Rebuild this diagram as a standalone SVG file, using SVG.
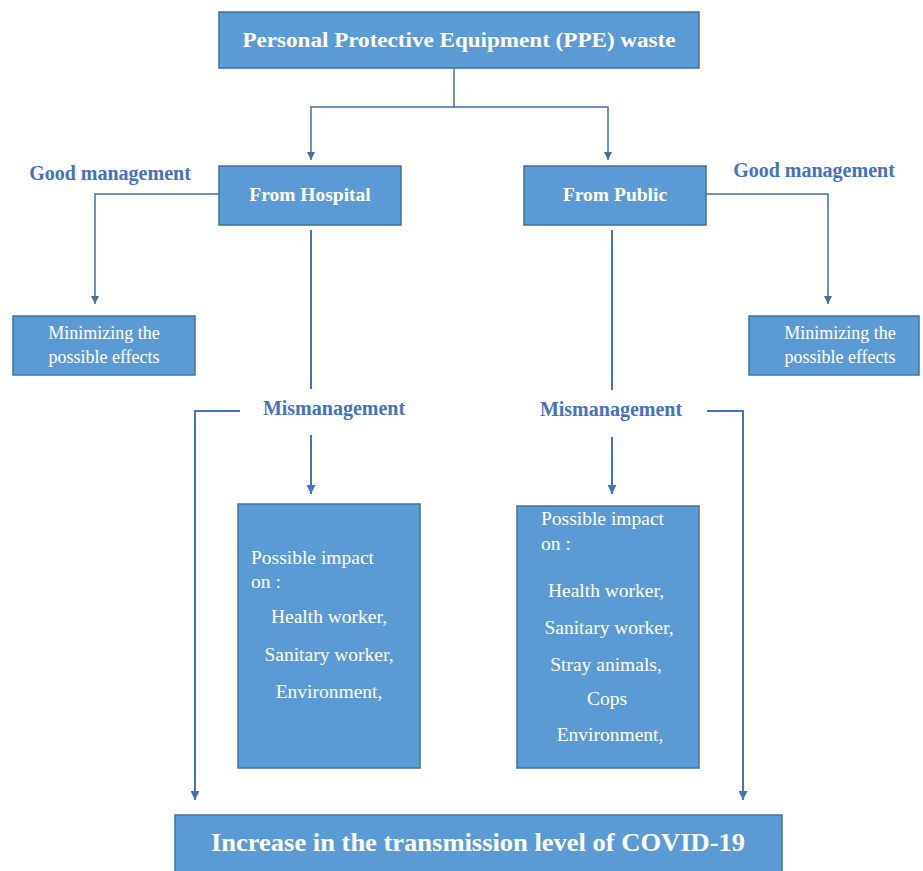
<svg xmlns="http://www.w3.org/2000/svg" width="923" height="871" viewBox="0 0 923 871">
<defs>
<style>
.box{fill:#5B9BD5;stroke:#41719C;stroke-width:1.5}
.t{font-family:"Liberation Serif","Times New Roman",serif;fill:#fff}
.b{font-weight:bold}
.lbl{font-family:"Liberation Serif","Times New Roman",serif;font-weight:bold;fill:#4472C4;font-size:20px}
.c1{fill:none;stroke:#41719C;stroke-width:1.5}
.c2{fill:none;stroke:#4472C4;stroke-width:2}
</style>
<marker id="a1" viewBox="0 0 10 10" refX="10" refY="5" markerWidth="8" markerHeight="8" markerUnits="userSpaceOnUse" orient="auto"><path d="M0,0 L10,5 L0,10 z" fill="#41719C"/></marker>
<marker id="a2" viewBox="0 0 10 10" refX="10" refY="5" markerWidth="9" markerHeight="9" markerUnits="userSpaceOnUse" orient="auto"><path d="M0,0 L10,5 L0,10 z" fill="#4472C4"/></marker>
</defs>
<rect width="923" height="871" fill="#fff"/>
<g id="connectors">
<path class="c1" d="M454,68 V107 H311 V160" marker-end="url(#a1)"/>
<path class="c1" d="M454,107 H608 V160" marker-end="url(#a1)"/>
<path class="c1" d="M219,194 H95 V304" marker-end="url(#a1)"/>
<path class="c1" d="M706,194 H828 V304" marker-end="url(#a1)"/>
<path class="c2" d="M311,230 V389"/>
<path class="c2" d="M311,435 V494" marker-end="url(#a2)"/>
<path class="c2" d="M240,411 H195 V800" marker-end="url(#a2)"/>
<path class="c2" d="M612,230 V390"/>
<path class="c2" d="M612,437 V494" marker-end="url(#a2)"/>
<path class="c2" d="M707,411 H743 V800" marker-end="url(#a2)"/>
</g>
<g id="ppe">
<rect class="box" x="219" y="12" width="480" height="56"/>
<text class="t b" x="459" y="47" font-size="20" text-anchor="middle" textLength="433" lengthAdjust="spacingAndGlyphs">Personal Protective Equipment (PPE) waste</text>
</g>
<g id="hospital">
<rect class="box" x="219" y="166" width="182" height="59"/>
<text class="t b" x="310" y="201" font-size="19.5" text-anchor="middle">From Hospital</text>
</g>
<g id="public">
<rect class="box" x="524" y="166" width="182" height="59"/>
<text class="t b" x="615" y="201" font-size="19.5" text-anchor="middle">From Public</text>
</g>
<g id="good-left"><text class="lbl" x="110" y="180" text-anchor="middle">Good management</text></g>
<g id="good-right"><text class="lbl" x="814" y="177" text-anchor="middle">Good management</text></g>
<g id="min-left">
<rect class="box" x="13" y="316" width="182" height="59"/>
<text class="t" x="104" y="339" font-size="18" text-anchor="middle">Minimizing the</text>
<text class="t" x="104" y="363" font-size="18" text-anchor="middle">possible effects</text>
</g>
<g id="min-right">
<rect class="box" x="749" y="316" width="170" height="59"/>
<text class="t" x="840" y="339" font-size="18" text-anchor="middle">Minimizing the</text>
<text class="t" x="840" y="363" font-size="18" text-anchor="middle">possible effects</text>
</g>
<g id="mis-left"><text class="lbl" x="334" y="415" text-anchor="middle">Mismanagement</text></g>
<g id="mis-right"><text class="lbl" x="611" y="416" text-anchor="middle">Mismanagement</text></g>
<g id="impact-left">
<rect class="box" x="238" y="504" width="182" height="264"/>
<text class="t" x="251" y="564" font-size="19.5">Possible impact</text>
<text class="t" x="251" y="588" font-size="19.5">on :</text>
<text class="t" x="329" y="623" font-size="19.5" text-anchor="middle">Health worker,</text>
<text class="t" x="329" y="661" font-size="19.5" text-anchor="middle">Sanitary worker,</text>
<text class="t" x="329" y="698" font-size="19.5" text-anchor="middle">Environment,</text>
</g>
<g id="impact-right">
<rect class="box" x="517" y="506" width="182" height="262"/>
<text class="t" x="541" y="525" font-size="19.5">Possible impact</text>
<text class="t" x="541" y="550" font-size="19.5">on :</text>
<text class="t" x="606" y="597" font-size="19.5" text-anchor="middle">Health worker,</text>
<text class="t" x="609" y="634" font-size="19.5" text-anchor="middle">Sanitary worker,</text>
<text class="t" x="606" y="671" font-size="19.5" text-anchor="middle">Stray animals,</text>
<text class="t" x="607" y="705" font-size="19.5" text-anchor="middle">Cops</text>
<text class="t" x="610" y="741" font-size="19.5" text-anchor="middle">Environment,</text>
</g>
<g id="covid">
<rect class="box" x="175" y="815" width="607" height="60"/>
<text class="t b" x="478" y="851" font-size="26" text-anchor="middle" textLength="534" lengthAdjust="spacingAndGlyphs">Increase in the transmission level of COVID-19</text>
</g>
</svg>
